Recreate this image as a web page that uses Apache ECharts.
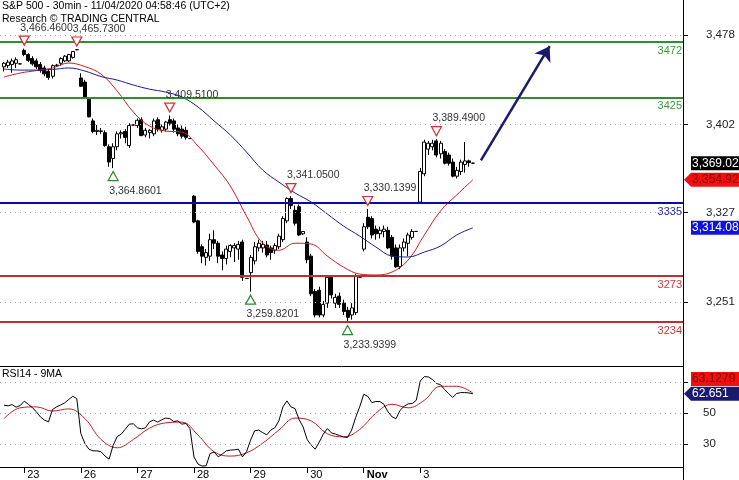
<!DOCTYPE html>
<html><head><meta charset="utf-8">
<script src="https://cdn.jsdelivr.net/npm/echarts@6/dist/echarts.min.js"></script>
<style>html,body{margin:0;padding:0;background:#fff}#c{width:739px;height:480px}</style>
</head><body><div id="c"></div>
<script>
// ---------- data ----------
const dayLabels   = ['23','26','27','28','29','30','Nov','3'];
const dayStartBar = [5,19,33,47,61,75,89,103];

const open = [3451,3452,3453,3454,3453.5,
 3465,3461.5,3458,3456,3453,3450,3447,3443,3452,3454,3456,3456,3459,3465.5,
 3441.5,3438,3424,3405,3396,3396.5,3395,3383,3373,3383,3394,3396,3384,3401.5,
 3401,3406,3393,3395,3394,3406,3397,3398,3406,3405,3399,3398,3397,3390,
 3341,3320,3298,3289,3290,3304,3301,3291,3288,3294,3297,3296,3302,3271,
 3276,3286,3297,3297,3299.5,3297,3295,3298,3304,3320,3339,3329,3332,3309,
 3302,3290,3260,3261,3240,3250,3272,3250,3256,3250,3244,3240,3242,3272,
 3296,3323,3322,3313,3309,3311,3312,3306,3297,3281,3297,3301,3306,3311,
 3336,3360,3381,3383,3388,3377,3379,3376,3370,3358,3362,3368,3371,3369.02];
const high = [3455,3457,3458,3459,3454,
 3466.46,3462.5,3460,3458,3455,3452,3449,3453,3453.5,3459,3461,3462,3464.5,3465.73,
 3445.5,3440,3425,3407,3401.5,3399,3397,3385,3386,3396,3397,3398,3403,3402,
 3407,3408,3399,3398,3407,3408,3402,3405,3409.51,3407,3402,3401,3400,3390.5,
 3342,3321,3300,3296,3309,3312,3303,3294,3299,3300,3301,3303,3304,3271.5,
 3291,3302,3304,3303,3303,3299,3301,3309,3324,3340,3341.05,3333,3334,3311,
 3306,3292,3262,3264,3252,3273,3274,3258,3259,3253,3247,3250,3275,3273,
 3318,3330.1399,3324,3316,3315,3316,3315,3308,3300,3300,3305,3310,3313,3311.5,
 3365,3389,3388,3389,3389.49,3388,3381,3378,3373,3366,3372,3387,3372,3369.5];
const low = [3447,3450,3446,3450,3453,
 3460,3455,3452,3449,3446,3443,3440,3441,3451,3452,3455,3455,3458,3465.2,
 3434,3424,3408,3394.5,3393,3394,3383,3366,3364.8601,3380,3390,3386,3382,3401,
 3399,3392,3391,3390,3392,3396,3395,3396,3401,3395,3392,3390,3389,3389.5,
 3318,3292,3284,3282,3286,3296,3284,3278,3283,3289,3285,3287,3269,3270.5,
 3259.8201,3283,3294,3293,3289,3287,3292,3296,3302,3318,3330,3316,3307,3308,
 3284,3256,3238,3238,3238,3246,3254,3246,3246,3240,3233.9399,3236,3240,3271.5,
 3294,3313,3305,3304,3305,3306,3296,3287,3280,3279,3294,3290,3304,3310.5,
 3335,3358,3376,3380,3374,3373,3368,3367,3357,3356,3359,3361,3366,3368.5];
const close = [3454,3455,3456,3457,3453.5,
 3461.5,3456.5,3453.5,3451,3448,3445,3442,3452,3452.5,3458,3460,3461.5,3464,3465.5,
 3434.5,3424.5,3408.5,3396,3397,3396,3384,3370,3383,3394,3395,3391,3401,3401.5,
 3405.5,3392.5,3397,3397,3405,3398,3400,3404,3403,3398,3394,3392,3391,3390,
 3319,3294,3290,3293,3304,3301,3290,3288,3296,3299,3299,3300,3272,3271,
 3289,3298,3301,3300,3291,3293,3299,3307,3322,3339,3333,3318,3308,3311,
 3287,3258,3240,3240,3249,3272,3257,3255,3249,3243,3238,3246,3273,3272.5,
 3315,3315,3308,3309,3312,3313,3297,3290,3281,3297,3302,3308,3311,3311,
 3362,3387,3386,3386,3376,3386,3369,3369,3358,3363,3370,3371,3369.5,3369.02];

// moving averages read every 4 bars
const maBars = [0,4,8,12,16,20,24,28,32,36,40,44,48,52,56,60,64,68,72,76,80,84,88,92,96,100,104,108,112,116];
const maFast = [3442.3,3445.7,3447.8,3450,3454.2,3451.2,3444.8,3430.4,3412.5,3400.6,3396.4,3395.5,3383.6,3367.5,3349.6,3324,3301,3295,3301,3300.3,3290,3280.7,3274.8,3274,3276.5,3286.7,3308,3328.4,3342,3354.92];
const maSlow = [3449.1,3448.2,3448.2,3448.7,3450,3447.4,3442.7,3439.7,3435.5,3432,3429.5,3425.3,3416.8,3404.9,3393,3378.5,3363.2,3353,3343.7,3336,3325.8,3315.6,3307.1,3297.8,3290.1,3289.3,3293.5,3298.6,3308,3314.08];

const rsi = [55.2,54.8,55.6,53.9,55.0,57.8,55.8,53.7,50.9,47.6,
 45.5,44.4,52.4,54.1,55.4,56.7,58.9,61.0,59.5,36.8,
 30.3,26.6,25.5,25.5,24.9,22.1,20.1,29.2,34.8,36.4,
 39.6,42.9,43.1,40.5,39.8,40.5,44.4,45.5,44.2,45.7,
 46.8,46.5,44.6,45.0,42.9,43.3,40.0,21.5,16.9,15.6,
 15.8,23.8,24.7,21.6,23.4,25.5,26.0,26.2,26.6,21.6,
 24.9,32.5,38.5,39.0,37.4,35.9,39.0,40.5,45.0,54.1,
 58.0,54.1,53.0,45.9,41.1,32.9,29.2,26.6,31.2,36.4,
 40.0,37.2,36.4,35.5,34.6,34.2,39.0,47.2,54.1,62.3,
 61.0,56.9,57.6,57.6,55.8,50.9,47.6,46.5,51.9,54.5,
 56.1,56.3,58.4,71.0,73.8,73.6,71.9,69.3,68.6,65.4,
 62.8,60.2,62.8,63.4,63.4,63.2,62.651];
const rsiMa = [46.5,53.5,54.1,51.4,52.8,46.5,32.9,27.5,32.9,40.3,43.7,44.2,35.7,24.9,22.1,24.2,30.5,39.0,46.8,45.0,36.6,34.6,39.4,50.0,55.8,53.5,58.4,67.5,67.5,63.1279];

const levels      = [3472, 3425, 3335, 3273, 3234];
const levelKind   = ['g','g','b','r','r'];
const priceTicks  = [3251, 3327, 3402, 3478];
const rsiTicks    = [30, 50, 70];

const pivotBar   = [5, 18, 41, 27, 71, 90, 61, 85, 107];
const pivotValue = [3466.46, 3465.73, 3409.51, 3364.8601, 3341.05, 3330.1399, 3259.8201, 3233.9399, 3389.49];
const pivotType  = ['H','H','H','L','H','H','L','L','H'];

const lastClose = 3369.02, lastFast = 3354.92, lastSlow = 3314.08, lastRsiMa = 63.1279, lastRsi = 62.651;
const arrowFrom = [118, 3371.5], arrowTo = [135, 3468.5];

// ---------- chart ----------
const FONT = '"Liberation Sans", Arial, sans-serif';
const NCAT = 170;                 // category slots (one leading blank slot)
const categories = [];
for (let j = 0; j < NCAT; j++) categories.push('c' + j);
const dayAt = {};
dayStartBar.forEach((b, i) => { dayAt[b + 1] = dayLabels[i]; });

const candleData = open.map((o, k) => [k + 1, o, close[k], low[k], high[k]]);
const fastData = maBars.map((b, i) => [b + 1, maFast[i]]);
const slowData = maBars.map((b, i) => [b + 1, maSlow[i]]);
const rsiData = rsi.map((v, k) => [k + 1, v]);
const rsiMaData = maBars.map((b, i) => [b + 1, rsiMa[i]]);

const lvlLine = {g:'#2f8f2f', b:'#0a0aa8', r:'#b83232'};
const lvlText = {g:'#3f9a3f', b:'#2a2aa8', r:'#cc3b3b'};
const fmt4 = v => v.toLocaleString('en-US', {minimumFractionDigits:4, maximumFractionDigits:4});

const priceMarkLines = priceTicks.map(v => ({
  yAxis: v, lineStyle:{color:'#a8a8a8', type:[1,4], width:1}, label:{show:false}
})).concat(levels.map((v, i) => ({
  yAxis: v,
  lineStyle:{color:lvlLine[levelKind[i]], width:2, type:'solid'},
  label:{show:true, position:'insideEndBottom', formatter:String(v), color:lvlText[levelKind[i]],
         fontSize:11, fontFamily:FONT, distance:[1,3]}
})));

const pivotPoints = pivotValue.map((v, i) => {
  const isH = pivotType[i] === 'H';
  return {
    coord: [pivotBar[i] + 1, v], value: v,
    symbol: isH ? 'path://M0,0 L10,0 L5,9 Z' : 'path://M5,0 L10,9 L0,9 Z',
    symbolSize: [10, 9],
    symbolOffset: [0, isH ? -8 : 8],
    itemStyle: {color:'#fff', borderColor: isH ? '#d03030' : '#2a8a2a', borderWidth:1.2},
    label: {show:true, formatter: fmt4(v), position: isH ? 'top' : 'bottom', distance: isH ? 2 : 4,
            align:'left', offset:[-4, 0], color:'#333', fontSize:10.5, fontFamily:FONT}
  };
});

const dayIdx = idx => dayAt[idx] !== undefined;

const option = {
  animation: false,
  backgroundColor: '#fff',
  textStyle: {fontFamily: FONT},
  title: [
    {text:'S&P 500 - 30min - 11/04/2020 04:58:46 (UTC+2)', left:2, top:1, padding:0,
     textStyle:{fontSize:10.5, fontWeight:'normal', color:'#000', fontFamily:FONT}},
    {text:'Research © TRADING CENTRAL', left:2, top:14, padding:0,
     textStyle:{fontSize:10.5, fontWeight:'normal', color:'#000', fontFamily:FONT}},
    {text:'RSI14 - 9MA', left:2, top:369, padding:0,
     textStyle:{fontSize:10.5, fontWeight:'normal', color:'#000', fontFamily:FONT}}
  ],
  grid: [
    {left:0, right:56, top:0, height:366},
    {left:0, right:56, top:366, height:101}
  ],
  xAxis: [
    {gridIndex:0, type:'category', data:categories, boundaryGap:false,
     axisLine:{show:true, lineStyle:{color:'#000', width:1}}, axisTick:{show:false},
     axisLabel:{show:false}, splitLine:{show:false}},
    {gridIndex:1, type:'category', data:categories, boundaryGap:false,
     axisLine:{show:true, lineStyle:{color:'#000', width:1}},
     axisTick:{show:true, interval:dayIdx, length:6, lineStyle:{color:'#000'}},
     axisLabel:{show:true, interval:dayIdx, align:'left', margin:2, padding:[0,0,0,3],
       fontSize:11, color:'#000', fontFamily:FONT,
       formatter:(val, idx) => { const t = dayAt[idx]; if (!t) return ''; return t === 'Nov' ? '{b|Nov}' : t; },
       rich:{b:{fontWeight:'bold', fontSize:11, fontFamily:FONT, color:'#000'}}},
     splitLine:{show:false}}
  ],
  yAxis: [
    {gridIndex:0, type:'value', position:'right', min:3196.6, max:3507.8, scale:true,
     axisLine:{show:true, lineStyle:{color:'#000', width:1}},
     axisTick:{show:true, customValues:priceTicks, length:5, lineStyle:{color:'#000'}},
     axisLabel:{show:true, customValues:priceTicks, margin:23, fontSize:11.5, color:'#222', fontFamily:FONT,
       formatter: v => Math.round(v).toLocaleString('en-US')},
     splitLine:{show:false}},
    {gridIndex:1, type:'value', position:'right', min:15, max:80.7,
     axisLine:{show:true, lineStyle:{color:'#000', width:1}},
     axisTick:{show:true, customValues:rsiTicks, length:5, lineStyle:{color:'#000'}},
     axisLabel:{show:true, customValues:rsiTicks, margin:20, fontSize:11.5, color:'#222', fontFamily:FONT},
     splitLine:{show:false}}
  ],
  series: [
    {type:'candlestick', xAxisIndex:0, yAxisIndex:0, data:candleData,
     encode:{x:0, y:[1,2,3,4]}, barWidth:3.5,
     itemStyle:{color:'#fff', color0:'#000', borderColor:'#000', borderColor0:'#000', borderWidth:1},
     markLine:{silent:true, symbol:['none','none'], animation:false, data:priceMarkLines},
     markPoint:{silent:true, animation:false, data:pivotPoints}},
    {type:'line', xAxisIndex:0, yAxisIndex:0, data:fastData, smooth:0.4, symbol:'none',
     lineStyle:{color:'#c82020', width:1}, z:3},
    {type:'line', xAxisIndex:0, yAxisIndex:0, data:slowData, smooth:0.4, symbol:'none',
     lineStyle:{color:'#1c1c8a', width:1}, z:3},
    {type:'line', xAxisIndex:0, yAxisIndex:0, data:[], symbol:'none',
     markLine:{silent:true, animation:false, symbol:['none','arrow'], symbolSize:14,
       lineStyle:{color:'#1a1a6a', width:2.5, type:'solid'}, label:{show:false},
       data:[[{coord:[arrowFrom[0]+1, arrowFrom[1]]}, {coord:[arrowTo[0]+1, arrowTo[1]]}]]}},
    {type:'line', xAxisIndex:1, yAxisIndex:1, data:rsiData, symbol:'none',
     lineStyle:{color:'#000', width:1}, z:4,
     markLine:{silent:true, symbol:['none','none'], animation:false, label:{show:false},
       data: rsiTicks.map(v => ({yAxis:v, lineStyle:{color:'#a8a8a8', type:[1,4], width:1}}))}},
    {type:'line', xAxisIndex:1, yAxisIndex:1, data:rsiMaData, smooth:0.4, symbol:'none',
     lineStyle:{color:'#c02020', width:1}, z:3}
  ]
};

const chart = echarts.init(document.getElementById('c'), null, {renderer:'canvas'});
chart.setOption(option);

function tag(y, txt, bg, fg, arrow) {
  const h = 14, x0 = 691, x1 = 739;
  const pts = arrow ? [[684,y],[x0,y-h/2],[x1,y-h/2],[x1,y+h/2],[x0,y+h/2]]
                    : [[x0,y-h/2],[x1,y-h/2],[x1,y+h/2],[x0,y+h/2]];
  return [
    {type:'polygon', shape:{points:pts}, style:{fill:bg}, z:100, silent:true},
    {type:'text', x:692, y:y, z:101, silent:true,
     style:{text:txt, fill:fg, font:'12px ' + FONT, align:'left', verticalAlign:'middle'}}
  ];
}
const py = v => chart.convertToPixel({yAxisIndex:0}, v);
const ry = v => chart.convertToPixel({yAxisIndex:1}, v);
const f2 = v => v.toLocaleString('en-US', {minimumFractionDigits:2, maximumFractionDigits:2});
let g = [];
g = g.concat(tag(py(lastClose), f2(lastClose), '#000', '#fff', false));
g = g.concat(tag(py(lastFast), f2(lastFast), '#f01010', '#8a0000', true));
g = g.concat(tag(py(lastSlow), f2(lastSlow), '#1010e0', '#fff', false));
// RSI MA tag is pushed up to avoid overlapping the RSI tag (as in the source)
g = g.concat(tag(ry(lastRsiMa) - 14, String(lastRsiMa), '#f01010', '#8a0000', false));
g = g.concat(tag(ry(lastRsi), String(lastRsi), '#1a1a70', '#fff', true));
// vertical axis line continues through the date strip
g.push({type:'line', shape:{x1:683.5, y1:467, x2:683.5, y2:480}, style:{stroke:'#000', lineWidth:1}, silent:true});
chart.setOption({graphic: g});
</script>
</body></html>
